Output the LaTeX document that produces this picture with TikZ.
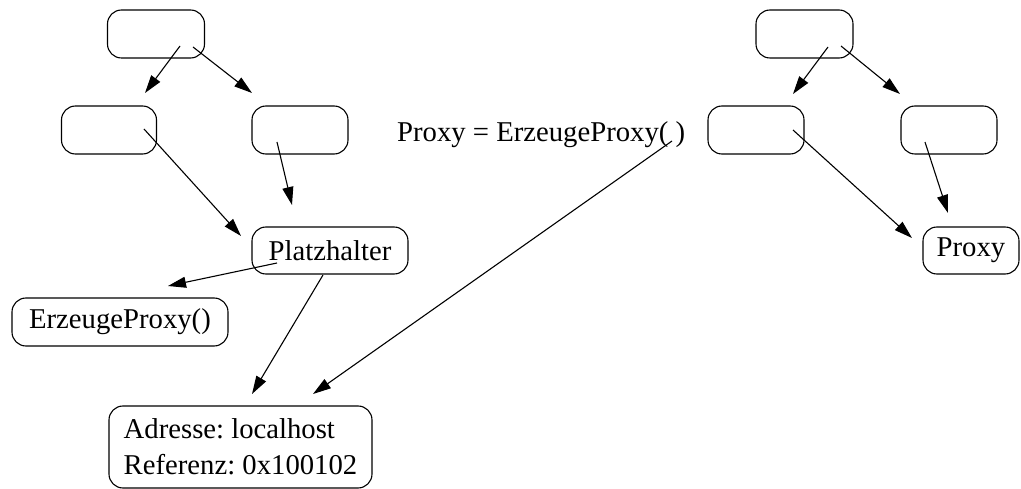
\documentclass[tikz,border=0pt]{standalone}
\usepackage{fontspec}
\setmainfont{Liberation Serif}
\usetikzlibrary{arrows.meta}
\begin{document}
\frenchspacing
\begin{tikzpicture}[x=1pt,y=-1pt,
  box/.style={draw, rounded corners=14pt, line width=1.1pt, inner sep=0pt,
    minimum width=96pt, minimum height=48pt},
  link/.style={line width=1.1pt, -{Triangle[length=18pt,width=11pt]}},
  font=\fontsize{28.7}{36}\selectfont]
\useasboundingbox (0,0) rectangle (1021,489);

% left tree
\node[box, minimum width=97pt] (lt) at (156,34) {};
\node[box, minimum width=95pt] (ll) at (109,130) {};
\node[box] (lr) at (300,130) {};
\node[box, minimum width=156pt, minimum height=47pt] (ph) at (330,250.5) {Platzhalter};
\node[box, minimum width=216pt] (ep) at (120,322) {ErzeugeProxy()};
\node[box, minimum width=263pt, minimum height=82pt, align=left] (addr) at (240.5,447)
  {Adresse: localhost\\Referenz: 0x100102};

% call in the middle
\node[anchor=base west, inner sep=0pt] (call) at (397,142) {Proxy = ErzeugeProxy( )};

% right tree
\node[box, minimum width=97pt] (rt) at (804.5,34) {};
\node[box] (rl) at (756,130) {};
\node[box] (rr) at (949,130) {};
\node[box, minimum height=47pt] (px) at (971,250.5) {Proxy};

% start points of the links
\coordinate (lt1) at (180,46);
\coordinate (lt2) at (193,47);
\coordinate (ll1) at (144,129);
\coordinate (lr1) at (277,142);
\coordinate (ph1) at (277,263);
\coordinate (ph2) at (323,275);
\coordinate (call1) at (672,141);
\coordinate (rt1) at (828,47);
\coordinate (rt2) at (841,46);
\coordinate (rl1) at (793,130);
\coordinate (rr1) at (925,142);

% free ends of the links
\coordinate (e1) at (145,93);
\coordinate (e2) at (252,93);
\coordinate (e3) at (241,236);
\coordinate (e4) at (292,205);
\coordinate (e5) at (168,286);
\coordinate (e6) at (252,394);
\coordinate (e7) at (313,394);
\coordinate (e8) at (793,94);
\coordinate (e9) at (900,94);
\coordinate (e10) at (912,238);
\coordinate (e11) at (948,213);

\draw[link] (lt1) -- (e1);
\draw[link] (lt2) -- (e2);
\draw[link] (ll1) -- (e3);
\draw[link] (lr1) -- (e4);
\draw[link] (ph1) -- (e5);
\draw[link] (ph2) -- (e6);
\draw[link] (call1) -- (e7);
\draw[link] (rt1) -- (e8);
\draw[link] (rt2) -- (e9);
\draw[link] (rl1) -- (e10);
\draw[link] (rr1) -- (e11);
\end{tikzpicture}
\end{document}
